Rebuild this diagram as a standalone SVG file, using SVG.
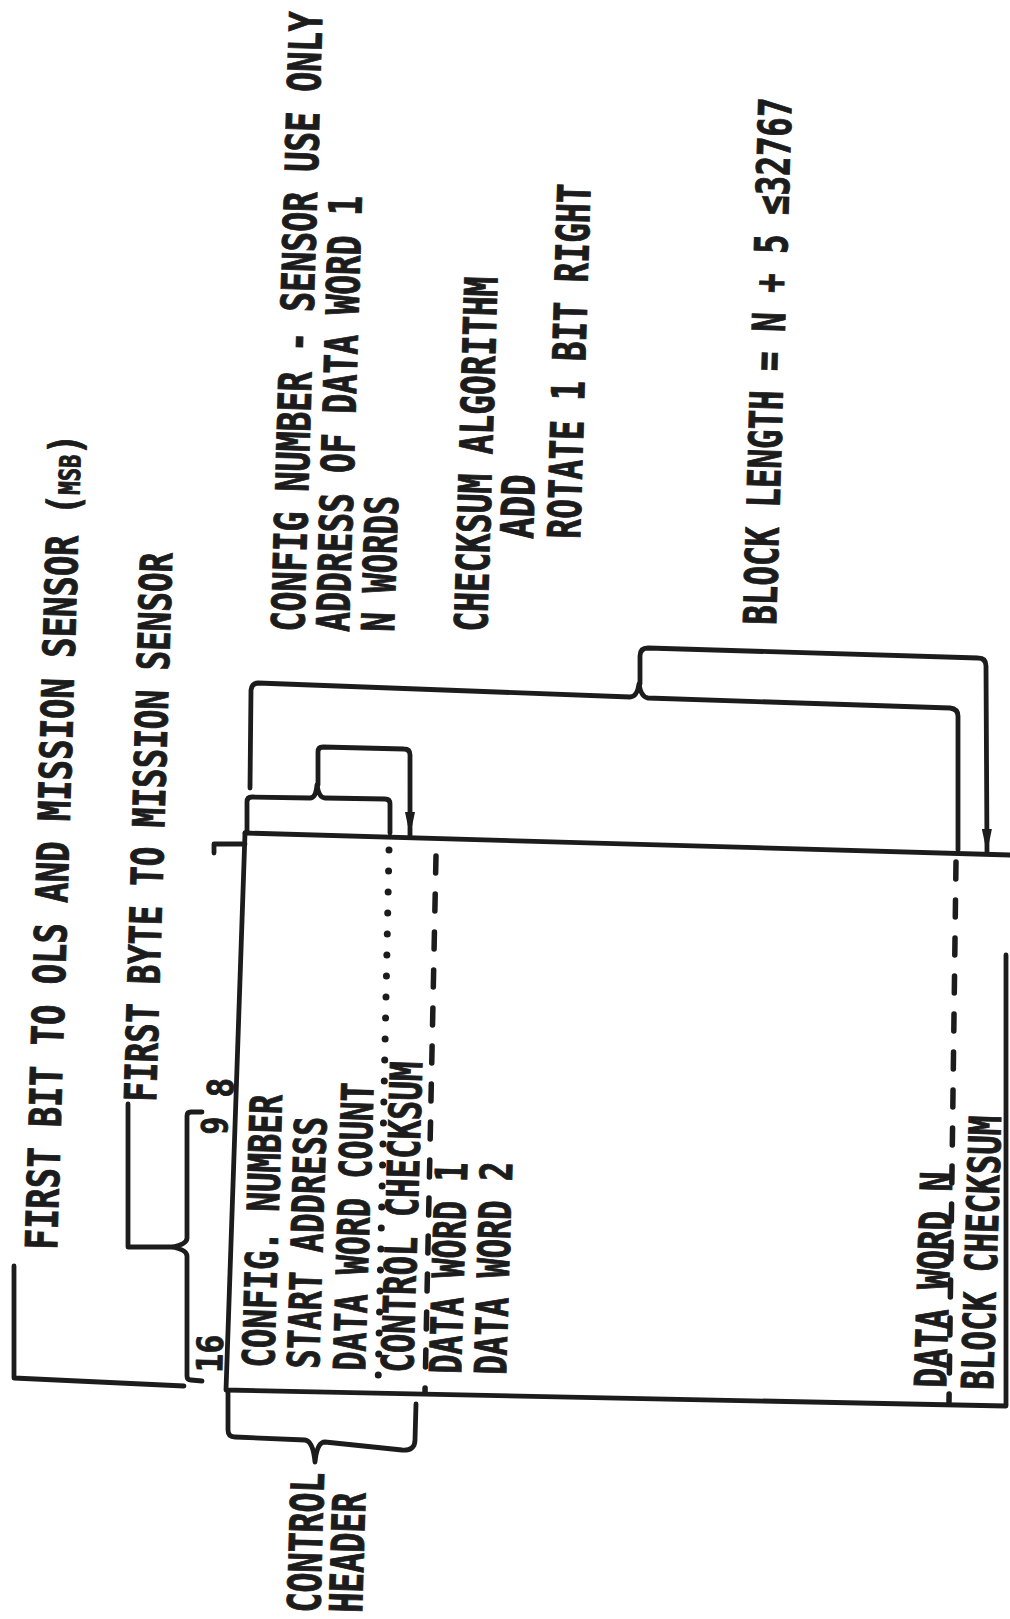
<svg xmlns="http://www.w3.org/2000/svg" width="1010" height="1619" viewBox="0 0 1010 1619">
<defs>
<style>
.ln{fill:none;stroke:#1c1c1c;stroke-width:4.8;stroke-linejoin:round;stroke-linecap:round}
.dot{fill:none;stroke:#1c1c1c;stroke-width:7;stroke-linecap:round;stroke-dasharray:0 21}
.dash{fill:none;stroke:#1c1c1c;stroke-width:5.5;stroke-linecap:round;stroke-dasharray:17 21}
.t{font-family:"DejaVu Sans Mono","Liberation Mono",monospace;font-weight:bold;font-size:32px;fill:#1c1c1c;stroke:#1c1c1c;stroke-width:0.7}
.n{font-size:30px}
</style>
<marker id="ah" viewBox="0 0 24 10" refX="24" refY="5" markerWidth="24" markerHeight="10" markerUnits="userSpaceOnUse" orient="auto">
<path d="M0,0 L24,5 L0,10 Z" fill="#1c1c1c"/>
</marker>
</defs>
<rect width="1010" height="1619" fill="#ffffff"/>

<g id="block">
<path class="ln" d="M245,833 L1010,855"/>
<path class="ln" d="M245,833 L226,1390 L1006,1406 L1006,955"/>
<path class="ln" d="M214,853 L214,844 L245,844"/>
<text class="t" transform="translate(274,1368) rotate(-88.3) scale(1,1.38)" textLength="273" lengthAdjust="spacingAndGlyphs">CONFIG. NUMBER</text>
<text class="t" transform="translate(319,1369) rotate(-88.3) scale(1,1.38)" textLength="252" lengthAdjust="spacingAndGlyphs">START ADDRESS</text>
<text class="t" transform="translate(365,1371) rotate(-88.3) scale(1,1.38)" textLength="288" lengthAdjust="spacingAndGlyphs">DATA WORD COUNT</text>
<text class="t" transform="translate(413,1373) rotate(-88.3) scale(1,1.38)" textLength="311" lengthAdjust="spacingAndGlyphs">CONTROL CHECKSUM</text>
<text class="t" transform="translate(461,1374) rotate(-88.3) scale(1,1.38)" textLength="211" lengthAdjust="spacingAndGlyphs">DATA WORD 1</text>
<text class="t" transform="translate(506,1375) rotate(-88.3) scale(1,1.38)" textLength="213" lengthAdjust="spacingAndGlyphs">DATA WORD 2</text>
<text class="t" transform="translate(946,1388) rotate(-88.3) scale(1,1.38)" textLength="216" lengthAdjust="spacingAndGlyphs">DATA WORD N</text>
<text class="t" transform="translate(993,1390) rotate(-88.3) scale(1,1.38)" textLength="274" lengthAdjust="spacingAndGlyphs">BLOCK CHECKSUM</text>
</g>

<g id="bit-numbers">
<text class="t n" transform="translate(222,1373) rotate(-88.3) scale(1,1.2)" textLength="38" lengthAdjust="spacingAndGlyphs">16</text>
<text class="t n" transform="translate(227,1135) rotate(-88.3) scale(1,1.2)" textLength="18" lengthAdjust="spacingAndGlyphs">9</text>
<text class="t n" transform="translate(233,1098) rotate(-88.3) scale(1,1.2)" textLength="20" lengthAdjust="spacingAndGlyphs">8</text>
</g>

<g id="label-first-bit">
<text class="t" transform="translate(57,1250) rotate(-88.3) scale(1,1.38)" textLength="816" lengthAdjust="spacingAndGlyphs">FIRST BIT TO OLS AND MISSION SENSOR (<tspan font-size="21">MSB</tspan>)</text>
</g>
<g id="label-first-byte">
<text class="t" transform="translate(156,1102) rotate(-88.3) scale(1,1.38)" textLength="549" lengthAdjust="spacingAndGlyphs">FIRST BYTE TO MISSION SENSOR</text>
</g>
<g id="label-config">
<text class="t" transform="translate(304,632) rotate(-88.3) scale(1,1.42)" textLength="620" lengthAdjust="spacingAndGlyphs">CONFIG NUMBER - SENSOR USE ONLY</text>
<text class="t" transform="translate(349,632) rotate(-88.3) scale(1,1.42)" textLength="436" lengthAdjust="spacingAndGlyphs">ADDRESS OF DATA WORD 1</text>
<text class="t" transform="translate(394,632) rotate(-88.3) scale(1,1.42)" textLength="136" lengthAdjust="spacingAndGlyphs">N WORDS</text>
</g>
<g id="label-checksum">
<text class="t" transform="translate(487,632) rotate(-88.3) scale(1,1.42)" textLength="355" lengthAdjust="spacingAndGlyphs">CHECKSUM ALGORITHM</text>
<text class="t" transform="translate(533,539) rotate(-88.3) scale(1,1.42)" textLength="64" lengthAdjust="spacingAndGlyphs">ADD</text>
<text class="t" transform="translate(580,539) rotate(-88.3) scale(1,1.42)" textLength="355" lengthAdjust="spacingAndGlyphs">ROTATE 1 BIT RIGHT</text>
</g>
<g id="label-block-length">
<text class="t" transform="translate(776,625) rotate(-88.3) scale(1,1.42)" textLength="527" lengthAdjust="spacingAndGlyphs">BLOCK LENGTH = N + 5 ≤32767</text>
</g>
<g id="label-control-header">
<text class="t" transform="translate(320,1613) rotate(-88.3) scale(1,1.42)" textLength="140" lengthAdjust="spacingAndGlyphs">CONTROL</text>
<text class="t" transform="translate(362,1613) rotate(-88.3) scale(1,1.42)" textLength="120" lengthAdjust="spacingAndGlyphs">HEADER</text>
</g>

<g id="connectors">
<path class="dot" d="M389,850 L378,1388"/>
<path class="dash" d="M436,856 L425,1392"/>
<path class="dash" d="M956,862 L949,1402"/>
<path class="ln" d="M14,1266 L14,1378 L184,1386"/>
<path class="ln" d="M128,1104 L128,1247 L173,1247"/>
<path class="ln" d="M202,1112 L191,1112 Q187,1112 187,1116 L187,1238 Q187,1244 173,1247 Q187,1250 187,1256 L187,1376 Q187,1380 191,1380 L202,1381"/>
<path class="ln" d="M247,832 L247,802 Q247,797 252,797 L310,798 Q316,798 317,785 Q319,798 325,798 L385,799 Q390,799 390,804 L390,833"/>
<path class="ln" d="M318,785 L318,752 Q318,747 323,747 L404,749 Q410,749 410,755 L410,836" marker-end="url(#ah)"/>
<path class="ln" d="M250,788 L251,690 Q252,683 258,683 L630,697 Q637,697 639,684 Q641,697 648,698 L950,708 Q958,709 958,716 L958,850"/>
<path class="ln" d="M640,684 L640,656 Q640,648 648,648 L978,658 Q986,658 986,666 L987,853" marker-end="url(#ah)"/>
<path class="ln" d="M228,1392 L228,1430 Q228,1437 235,1437 L305,1440 Q313,1441 315,1462 Q317,1442 325,1442 L402,1450 Q415,1451 415,1440 L416,1404"/>
</g>
</svg>
